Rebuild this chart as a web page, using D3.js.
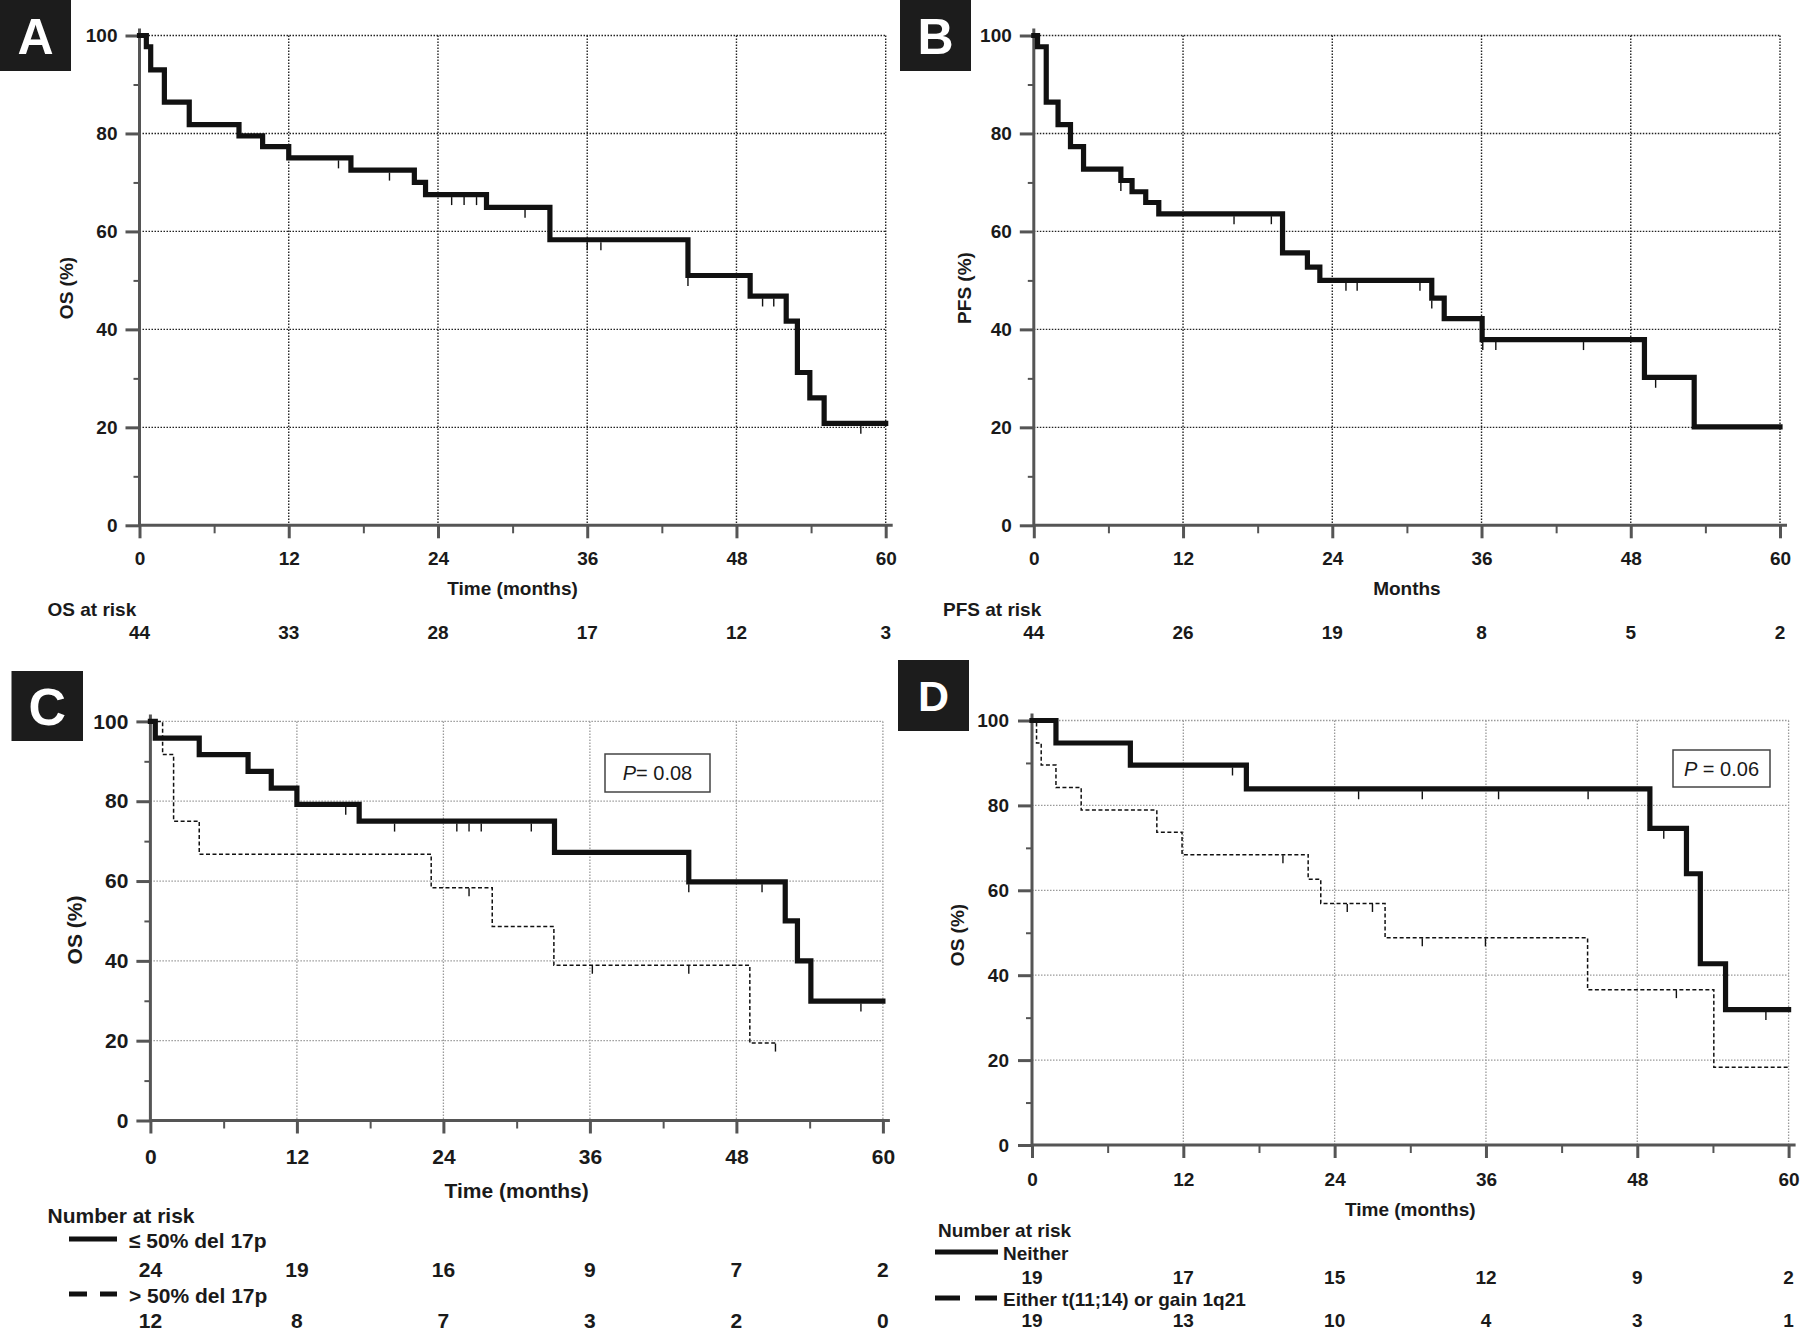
<!DOCTYPE html>
<html>
<head>
<meta charset="utf-8">
<script src="https://cdn.jsdelivr.net/npm/d3@7"></script>
<style>
  html, body { margin: 0; padding: 0; background: #fff; }
  svg { display: block; }
  text { font-family: "Liberation Sans", Arial, sans-serif; fill: #1a1a1a; }
</style>
</head>
<body>
<svg id="chart" width="1800" height="1333"></svg>
<script>
// ---------------- DATA ----------------
const monthTicks = [0, 12, 24, 36, 48, 60];
const monthMinor = [6, 18, 30, 42, 54];
const pctTicks = [0, 20, 40, 60, 80, 100];
const pctMinor = [10, 30, 50, 70, 90];

// Panel A: overall survival
const osTimes = [0, 0.55, 0.9, 2.0, 4.0, 8.0, 9.9, 12.0, 17.0, 22.1, 23.0, 27.9, 33.0, 44.1, 49.1, 52.0, 52.9, 53.9, 55.05, 60];
const osSurv  = [100, 97.7, 93.0, 86.4, 81.8, 79.5, 77.3, 75.0, 72.5, 70.0, 67.5, 64.9, 58.3, 51.0, 46.8, 41.7, 31.2, 26.0, 20.8, 20.8];
const osCensor = [16.0, 20.1, 25.1, 26.1, 27.1, 31.0, 36.0, 37.1, 44.1, 50.1, 51.0, 58.0];
const osAtRisk = [44, 33, 28, 17, 12, 3];

// Panel B: progression-free survival
const pfsTimes = [0, 0.3, 1.0, 1.95, 2.95, 4.0, 7.0, 7.9, 9.0, 10.05, 20.0, 22.0, 23.0, 32.0, 33.0, 36.05, 49.1, 53.1, 60];
const pfsSurv  = [100, 97.7, 86.4, 81.8, 77.3, 72.7, 70.4, 68.1, 65.9, 63.6, 55.6, 52.7, 50.0, 46.4, 42.2, 37.9, 30.2, 20.1, 20.1];
const pfsCensor = [7.0, 16.1, 19.1, 25.1, 26.0, 31.05, 32.0, 36.1, 37.15, 44.2, 50.0];
const pfsAtRisk = [44, 26, 19, 8, 5, 2];

// Panel C: del 17p groups
const lowTimes = [0, 0.4, 4.0, 8.0, 9.9, 12.0, 17.1, 33.1, 44.1, 52.0, 53.0, 54.1, 60];
const lowSurv  = [100, 95.8, 91.7, 87.5, 83.3, 79.2, 75.0, 67.2, 59.8, 50.0, 40.0, 29.9, 29.9];
const lowCensor = [16.0, 20.0, 25.1, 26.1, 27.1, 31.2, 44.1, 50.1, 58.2];
const lowAtRisk = [24, 19, 16, 9, 7, 2];
const highTimes = [0, 1.0, 1.9, 4.0, 23.0, 28.0, 33.05, 49.1, 51.2];
const highSurv  = [100, 91.7, 75.0, 66.7, 58.3, 48.6, 38.9, 19.4, 19.4];
const highCensor = [26.1, 36.2, 44.1, 51.2];
const highAtRisk = [12, 8, 7, 3, 2, 0];

// Panel D: t(11;14) / gain 1q21
const neitherTimes = [0, 1.9, 7.8, 17.0, 49.0, 51.9, 53.0, 55.0, 60];
const neitherSurv  = [100, 94.7, 89.5, 83.9, 74.6, 63.9, 42.7, 31.9, 31.9];
const neitherCensor = [15.9, 25.9, 30.95, 37.0, 44.1, 50.1, 58.2];
const neitherAtRisk = [19, 17, 15, 12, 9, 2];
const eitherTimes = [0, 0.36, 0.73, 1.9, 3.9, 9.9, 11.9, 21.9, 22.9, 28.0, 44.06, 54.07, 60];
const eitherSurv  = [100, 94.7, 89.5, 84.2, 78.9, 73.7, 68.4, 62.6, 56.9, 48.8, 36.6, 18.3, 18.3];
const eitherCensor = [19.9, 25.0, 27.0, 30.95, 35.96, 51.1];
const eitherAtRisk = [19, 13, 10, 4, 3, 1];

// ---------------- DRAWING ----------------
const svg = d3.select("#chart");
const INK = "#111";
const AXIS = "#555";

function stepValue(times, surv, t) {
  let v = surv[0];
  for (let i = 0; i < times.length; i++) { if (times[i] <= t + 1e-9) v = surv[i]; }
  return v;
}

function drawPanel(cfg) {
  const g = svg.append("g");
  const x = d3.scaleLinear().domain([0, 60]).range([cfg.x0, cfg.x1]);
  const y = d3.scaleLinear().domain([0, 100]).range([cfg.yBot, cfg.yTop]);
  const fs = cfg.fs;

  // letter box
  g.append("rect").attr("x", cfg.box[0]).attr("y", cfg.box[1]).attr("width", cfg.box[2]).attr("height", cfg.box[3]).attr("fill", "#1c1c1c");
  g.append("text").attr("x", cfg.box[0] + cfg.box[2] / 2).attr("y", cfg.box[1] + cfg.box[3] / 2 + cfg.letterSize * 0.36)
    .attr("text-anchor", "middle").style("fill", "#fff").style("font-weight", "bold").style("font-size", cfg.letterSize + "px").text(cfg.letter);

  // grid
  const grid = g.append("g").attr("stroke", cfg.gridColor).attr("stroke-width", cfg.gridWidth).attr("stroke-dasharray", "1.5,1.5").attr("fill", "none");
  grid.selectAll("line.h").data(pctTicks.filter(d => d > 0)).join("line")
    .attr("x1", x(0)).attr("x2", x(60)).attr("y1", d => y(d)).attr("y2", d => y(d));
  grid.selectAll("line.v").data(monthTicks.filter(d => d > 0)).join("line")
    .attr("x1", d => x(d)).attr("x2", d => x(d)).attr("y1", y(100)).attr("y2", y(0));

  // axes
  const styleAxis = sel => {
    sel.select(".domain").remove();
    sel.selectAll(".tick line").attr("stroke", AXIS).attr("stroke-width", 3);
    sel.selectAll(".tick text").style("font-size", fs + "px").style("font-weight", "bold").style("fill", "#1a1a1a");
  };
  g.append("g").attr("transform", `translate(0,${cfg.yBot})`)
    .call(d3.axisBottom(x).tickValues(monthTicks).tickSize(13).tickPadding(cfg.xPad).tickFormat(d3.format("d")))
    .call(styleAxis);
  g.append("g").attr("transform", `translate(0,${cfg.yBot})`)
    .call(d3.axisBottom(x).tickValues(monthMinor).tickSize(8).tickFormat(""))
    .call(styleAxis).selectAll(".tick line").attr("stroke-width", 2);
  g.append("g").attr("transform", `translate(${cfg.x0},0)`)
    .call(d3.axisLeft(y).tickValues(pctTicks).tickSize(14).tickPadding(cfg.yPad).tickFormat(d3.format("d")))
    .call(styleAxis);
  g.append("g").attr("transform", `translate(${cfg.x0},0)`)
    .call(d3.axisLeft(y).tickValues(pctMinor).tickSize(6).tickFormat(""))
    .call(styleAxis).selectAll(".tick line").attr("stroke-width", 2);
  // axis lines
  g.append("line").attr("x1", cfg.x0).attr("x2", cfg.x0).attr("y1", y(100) - 7).attr("y2", cfg.yBot + 1.5)
    .attr("stroke", AXIS).attr("stroke-width", 3);
  g.append("line").attr("x1", cfg.x0).attr("x2", cfg.x1 + 7).attr("y1", cfg.yBot).attr("y2", cfg.yBot)
    .attr("stroke", AXIS).attr("stroke-width", 3);

  // titles
  g.append("text").attr("x", (cfg.x0 + cfg.x1) / 2).attr("y", cfg.xTitleY + fs * 0.36)
    .attr("text-anchor", "middle").style("font-weight", "bold").style("font-size", fs + "px").text(cfg.xTitle);
  g.append("text").attr("transform", `translate(${cfg.yTitleX + fs * 0.36},${cfg.yTitleY}) rotate(-90)`)
    .attr("text-anchor", "middle").style("font-weight", "bold").style("font-size", fs + "px").text(cfg.yTitle);

  // curves
  const line = d3.line().x(d => x(d[0])).y(d => y(d[1])).curve(d3.curveStepAfter);
  cfg.series.forEach(s => {
    const pts = s.times.map((t, i) => [t, s.surv[i]]);
    g.append("path").datum(pts).attr("d", line).attr("fill", "none").attr("stroke", INK)
      .attr("stroke-width", s.dashed ? 1.5 : 5.2).attr("stroke-linejoin", "miter").attr("stroke-linecap", s.dashed ? "butt" : "square")
      .attr("stroke-dasharray", s.dashed ? "4,2.5" : null);
    const off = s.dashed ? 0.5 : 2.4;
    g.append("g").selectAll("line").data(s.censor).join("line")
      .attr("x1", d => x(d)).attr("x2", d => x(d))
      .attr("y1", d => y(stepValue(s.times, s.surv, d)) + off)
      .attr("y2", d => y(stepValue(s.times, s.surv, d)) + off + 8)
      .attr("stroke", INK).attr("stroke-width", 1.4);
  });

  // p value box
  if (cfg.pBox) {
    const p = cfg.pBox;
    g.append("rect").attr("x", p.x).attr("y", p.y).attr("width", p.w).attr("height", p.h)
      .attr("fill", "#fff").attr("stroke", "#444").attr("stroke-width", 1.5);
    const t = g.append("text").attr("x", p.x + p.w / 2).attr("y", p.y + p.h / 2 + 7).attr("text-anchor", "middle")
      .style("font-size", "20px");
    t.append("tspan").style("font-style", "italic").text("P");
    t.append("tspan").text(p.text);
  }

  // number at risk
  g.append("text").attr("x", cfg.riskTitle[0]).attr("y", cfg.riskTitle[1] + fs * 0.36)
    .style("font-weight", "bold").style("font-size", fs + "px").text(cfg.riskLabel);
  cfg.riskRows.forEach(r => {
    if (r.legend) {
      const L = r.legend;
      L.segs.forEach(sg => g.append("line").attr("x1", sg[0]).attr("x2", sg[1]).attr("y1", L.y).attr("y2", L.y)
        .attr("stroke", INK).attr("stroke-width", 5));
      g.append("text").attr("x", L.textX).attr("y", L.y + fs * 0.36 + 1)
        .style("font-weight", "bold").style("font-size", fs + "px").text(L.text);
    }
    g.append("g").selectAll("text").data(r.values).join("text")
      .attr("x", (d, i) => x(monthTicks[i])).attr("y", r.y + fs * 0.36)
      .attr("text-anchor", "middle").style("font-weight", "bold").style("font-size", fs + "px").text(d => d);
  });
}

drawPanel({
  letter: "A", box: [0, 0, 71, 71], letterSize: 50,
  x0: 139.5, x1: 885.7, yTop: 35.5, yBot: 525.3, fs: 19,
  gridColor: "#222", gridWidth: 1.4, xPad: 13.5, yPad: 8,
  xTitle: "Time (months)", xTitleY: 588, yTitle: "OS (%)", yTitleX: 66, yTitleY: 288,
  series: [{ times: osTimes, surv: osSurv, censor: osCensor, dashed: false }],
  riskLabel: "OS at risk", riskTitle: [47.5, 609],
  riskRows: [{ y: 632, values: osAtRisk }]
});

drawPanel({
  letter: "B", box: [900, 0, 71, 71], letterSize: 50,
  x0: 1033.8, x1: 1780, yTop: 35.5, yBot: 525.3, fs: 19,
  gridColor: "#222", gridWidth: 1.4, xPad: 13.5, yPad: 8,
  xTitle: "Months", xTitleY: 588, yTitle: "PFS (%)", yTitleX: 964, yTitleY: 288,
  series: [{ times: pfsTimes, surv: pfsSurv, censor: pfsCensor, dashed: false }],
  riskLabel: "PFS at risk", riskTitle: [943, 609],
  riskRows: [{ y: 632, values: pfsAtRisk }]
});

drawPanel({
  letter: "C", box: [11.5, 671, 71.5, 70], letterSize: 52,
  x0: 150.4, x1: 882.9, yTop: 721.4, yBot: 1120.5, fs: 21,
  gridColor: "#9a9a9a", gridWidth: 1.3, xPad: 15.5, yPad: 8,
  xTitle: "Time (months)", xTitleY: 1190, yTitle: "OS (%)", yTitleX: 74.5, yTitleY: 930,
  series: [
    { times: lowTimes, surv: lowSurv, censor: lowCensor, dashed: false },
    { times: highTimes, surv: highSurv, censor: highCensor, dashed: true }
  ],
  pBox: { x: 605, y: 754, w: 105, h: 38, text: "= 0.08" },
  riskLabel: "Number at risk", riskTitle: [47.5, 1215],
  riskRows: [
    { y: 1269, values: lowAtRisk, legend: { y: 1239, segs: [[69, 117]], textX: 129, text: "≤ 50% del 17p" } },
    { y: 1320, values: highAtRisk, legend: { y: 1294, segs: [[69, 87], [100, 117]], textX: 129, text: "> 50% del 17p" } }
  ]
});

drawPanel({
  letter: "D", box: [898, 660, 71, 71], letterSize: 43,
  x0: 1032, x1: 1788.6, yTop: 720.5, yBot: 1145, fs: 19,
  gridColor: "#9a9a9a", gridWidth: 1.3, xPad: 14.5, yPad: 9,
  xTitle: "Time (months)", xTitleY: 1209, yTitle: "OS (%)", yTitleX: 957, yTitleY: 935,
  series: [
    { times: neitherTimes, surv: neitherSurv, censor: neitherCensor, dashed: false },
    { times: eitherTimes, surv: eitherSurv, censor: eitherCensor, dashed: true }
  ],
  pBox: { x: 1673, y: 750, w: 97, h: 37, text: " = 0.06" },
  riskLabel: "Number at risk", riskTitle: [938, 1230],
  riskRows: [
    { y: 1277, values: neitherAtRisk, legend: { y: 1252, segs: [[935, 998]], textX: 1003, text: "Neither" } },
    { y: 1320, values: eitherAtRisk, legend: { y: 1298, segs: [[935, 960], [975, 997]], textX: 1003, text: "Either t(11;14) or gain 1q21" } }
  ]
});
</script>
</body>
</html>
